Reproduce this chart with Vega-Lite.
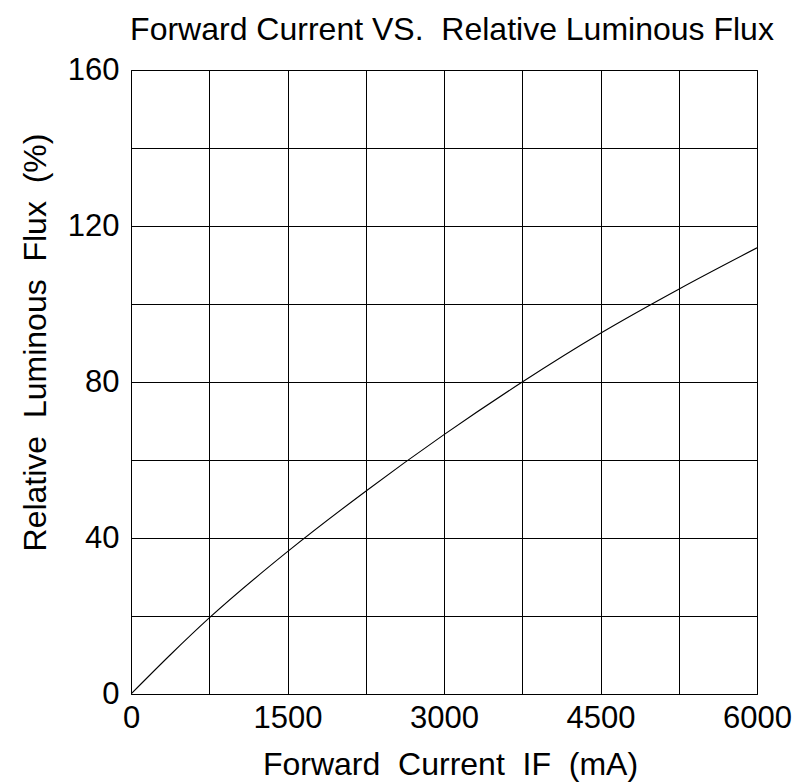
{
  "$schema": "https://vega.github.io/schema/vega-lite/v6.json",
  "autosize": "none",
  "width": 626,
  "height": 624,
  "padding": {"left": 131, "top": 70, "right": 43, "bottom": 88},
  "background": "white",
  "config": {
    "font": "Liberation Sans",
    "view": {"stroke": "black", "strokeWidth": 1}
  },
  "title": {
    "text": "Forward Current VS.\u00a0 Relative Luminous Flux",
    "font": "Liberation Sans",
    "fontSize": 32,
    "fontWeight": "normal",
    "color": "black",
    "anchor": "middle",
    "frame": "group",
    "dx": 8,
    "dy": 50,
    "baseline": "bottom",
    "offset": 25
  },
  "data": {
    "values": [
      {"current": 0, "flux": 0},
      {"current": 375, "flux": 10},
      {"current": 750, "flux": 19.5},
      {"current": 1500, "flux": 36.5},
      {"current": 2250, "flux": 52},
      {"current": 3000, "flux": 66.5},
      {"current": 3750, "flux": 80},
      {"current": 4500, "flux": 92.5},
      {"current": 5250, "flux": 103.8},
      {"current": 6000, "flux": 114.4}
    ]
  },
  "mark": {"type": "line", "color": "black", "strokeWidth": 1.1, "interpolate": "monotone", "clip": true},
  "encoding": {
    "x": {
      "field": "current",
      "type": "quantitative",
      "scale": {"domain": [0, 6000], "nice": false, "zero": false},
      "axis": {
        "title": "Forward\u00a0 Current\u00a0 IF\u00a0 (mA)",
        "values": [0, 750, 1500, 2250, 3000, 3750, 4500, 5250, 6000],
        "labelExpr": "datum.value % 1500 == 0 ? datum.value : ''",
        "domain": false,
        "ticks": false,
        "tickSize": 0,
        "grid": true,
        "gridColor": "black",
        "gridOpacity": 1,
        "gridWidth": 1,
        "labelFont": "Liberation Sans",
        "labelFontSize": 31,
        "labelColor": "black",
        "labelBaseline": "top",
        "labelPadding": 9,
        "labelDx": 4,
        "labelFlush": false,
        "labelOverlap": false,
        "titleFont": "Liberation Sans",
        "titleFontSize": 32,
        "titleFontWeight": "normal",
        "titleColor": "black",
        "titleBaseline": "alphabetic",
        "titleAlign": "center",
        "titleX": 319,
        "titleY": 80
      }
    },
    "y": {
      "field": "flux",
      "type": "quantitative",
      "scale": {"domain": [0, 160], "nice": false, "zero": false},
      "axis": {
        "title": "Relative\u00a0 Luminous\u00a0 Flux\u00a0 (%)",
        "values": [0, 20, 40, 60, 80, 100, 120, 140, 160],
        "labelExpr": "datum.value % 40 == 0 ? datum.value : ''",
        "domain": false,
        "ticks": false,
        "tickSize": 0,
        "grid": true,
        "gridColor": "black",
        "gridOpacity": 1,
        "gridWidth": 1,
        "labelFont": "Liberation Sans",
        "labelFontSize": 31,
        "labelColor": "black",
        "labelBaseline": "middle",
        "labelAlign": "right",
        "labelPadding": 12,
        "labelFlush": false,
        "labelOverlap": false,
        "titleFont": "Liberation Sans",
        "titleFontSize": 32,
        "titleFontWeight": "normal",
        "titleColor": "black",
        "titleAngle": -90,
        "titleBaseline": "alphabetic",
        "titleAlign": "center",
        "titleX": -86,
        "titleY": 272
      }
    }
  }
}
